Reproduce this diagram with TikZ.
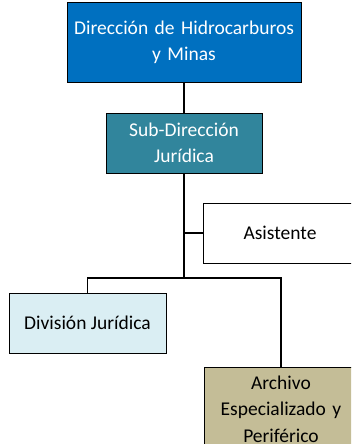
\documentclass[tikz,border=0pt]{standalone}
\usepackage{fontspec}
\setmainfont{Carlito}
\usetikzlibrary{positioning}
\definecolor{dirblue}{HTML}{0070C0}
\definecolor{subteal}{HTML}{31859C}
\definecolor{divblue}{HTML}{DAEEF3}
\definecolor{archtan}{HTML}{C4BD97}

\begin{document}
\begin{tikzpicture}[
    x=1pt, y=-1pt,
    unit/.style={rectangle, draw=black, line width=1pt, inner sep=2pt,
        font=\fontsize{19.5}{26.5}\selectfont, align=center},
    link/.style={draw=black, line width=1.1pt}
]
    \useasboundingbox (0,0) rectangle (351,444);
    \clip (0,0) rectangle (351,444);

    % Top levels
    \node[unit, fill=dirblue, text=white, minimum width=234pt, minimum height=79pt,
        text width=230pt] (dir) at (184,42.5) {Dirección de Hidrocarburos\\y Minas};
    \node[unit, fill=subteal, text=white, minimum width=156pt, minimum height=60pt,
        text width=150pt] (sub) at (184,143) {Sub-Dirección\\Jurídica};

    % Staff and units
    \node[unit, fill=white, minimum width=154pt, minimum height=60pt] (asis) at (280,233) {Asistente};
    \node[unit, fill=divblue, minimum width=157pt, minimum height=60pt] (div) at (87.5,323) {División Jurídica};
    \node[unit, fill=archtan, minimum width=154pt, minimum height=84pt,
        text width=150pt] (arch) at (281,409) {Archivo\\Especializado y\\Periférico};

    \coordinate (hub) at (184,278);

    \draw[link] (dir) -- (sub);
    \draw[link] (sub.south) -- (hub);
    \draw[link] (sub.south |- asis.west) -- (asis.west);
    \draw[link] (hub) -| (div.north);
    \draw[link] (hub) -| (arch.north);
\end{tikzpicture}
\end{document}
